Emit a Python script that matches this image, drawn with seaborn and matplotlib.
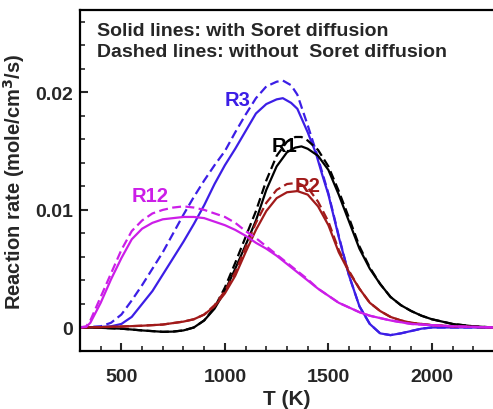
import matplotlib
matplotlib.use("Agg")
import matplotlib.pyplot as plt
import seaborn as sns
import numpy as np
import pandas as pd
from matplotlib.ticker import MultipleLocator

# ---------------- data ----------------
T_r3 = [300, 400, 450, 500, 550, 600, 650, 700, 750, 800, 850, 900, 950, 1000, 1050, 1100,
        1150, 1200, 1250, 1280, 1320, 1350, 1400, 1440, 1470, 1500, 1550, 1600, 1650, 1700,
        1750, 1800, 1850, 1900, 1950, 2000, 2100, 2300]
r3_solid = [0, 0.00005, 0.0001, 0.0003, 0.0009, 0.0020, 0.0031, 0.0045, 0.0059, 0.0073, 0.0088,
            0.0104, 0.0122, 0.0138, 0.0152, 0.0167, 0.0182, 0.0190, 0.0194, 0.0195, 0.0191,
            0.0186, 0.0166, 0.0148, 0.0130, 0.0113, 0.0077, 0.0044, 0.0018, 0.0003, -0.0005,
            -0.00065, -0.0005, -0.0003, -0.0001, 0, 0, 0]
r3_dashed = [0, 0.0001, 0.0004, 0.0011, 0.0023, 0.0036, 0.0050, 0.0064, 0.0080, 0.0096, 0.0111,
             0.0125, 0.0138, 0.0150, 0.0166, 0.0181, 0.0195, 0.0205, 0.0209, 0.0210, 0.0206,
             0.0198, 0.0172, 0.0150, 0.0132, 0.0114, 0.0078, 0.0044, 0.0018, 0.0003, -0.0005,
             -0.00065, -0.0005, -0.0003, -0.0001, 0, 0, 0]

T_r1 = [300, 400, 500, 600, 700, 750, 800, 850, 900, 950, 1000, 1050, 1100, 1150, 1200, 1250,
        1300, 1340, 1370, 1400, 1450, 1500, 1550, 1600, 1650, 1700, 1750, 1800, 1850, 1900,
        1950, 2000, 2100, 2200, 2300]
r1_solid = [0, -0.00003, -0.0001, -0.00025, -0.00037, -0.00035, -0.00025, 0.0, 0.0006, 0.0016,
            0.0031, 0.0050, 0.0070, 0.0091, 0.0117, 0.0137, 0.0149, 0.0153, 0.0154, 0.0152,
            0.0146, 0.0134, 0.0113, 0.0090, 0.0067, 0.0050, 0.0037, 0.0026, 0.0019, 0.0014,
            0.0010, 0.0007, 0.0003, 0.0001, 0]
r1_dashed = [0, -0.00003, -0.0001, -0.00025, -0.00037, -0.00035, -0.00025, 0.0, 0.0006, 0.0017,
             0.0034, 0.0055, 0.0077, 0.0099, 0.0125, 0.0146, 0.0158, 0.0162, 0.0162, 0.0159,
             0.0151, 0.0137, 0.0116, 0.0093, 0.0069, 0.0051, 0.0037, 0.0026, 0.0019, 0.0014,
             0.0010, 0.0007, 0.0003, 0.0001, 0]

T_r2 = [300, 400, 500, 600, 700, 800, 850, 900, 950, 1000, 1050, 1100, 1150, 1200, 1250, 1300,
        1350, 1400, 1450, 1500, 1550, 1600, 1650, 1700, 1750, 1800, 1850, 1900, 2000, 2100, 2300]
r2_solid = [0, 0.00003, 0.00008, 0.00015, 0.00025, 0.0005, 0.0007, 0.0011, 0.0018, 0.0029,
            0.0044, 0.0064, 0.0083, 0.0099, 0.0110, 0.0115, 0.0116, 0.0113, 0.0103, 0.0087,
            0.0064, 0.0047, 0.0033, 0.0021, 0.0014, 0.0009, 0.0006, 0.0004, 0.0002, 0.0001, 0]
r2_dashed = [0, 0.00003, 0.00008, 0.00015, 0.00025, 0.0005, 0.0007, 0.0011, 0.0019, 0.0031,
             0.0047, 0.0068, 0.0089, 0.0106, 0.0117, 0.0122, 0.0123, 0.0119, 0.0107, 0.0090,
             0.0066, 0.0048, 0.0033, 0.0021, 0.0014, 0.0009, 0.0006, 0.0004, 0.0002, 0.0001, 0]

T_r12 = [300, 330, 350, 400, 450, 500, 550, 600, 650, 700, 750, 800, 850, 900, 950, 1000, 1050,
         1100, 1150, 1200, 1250, 1300, 1350, 1400, 1450, 1500, 1550, 1600, 1650, 1700, 1800,
         1900, 2000, 2100, 2300]
r12_solid = [0, 0.00005, 0.0004, 0.0021, 0.0041, 0.0059, 0.0075, 0.0084, 0.0089, 0.0092, 0.0093,
             0.0094, 0.0094, 0.0093, 0.0090, 0.0087, 0.0083, 0.0078, 0.0072, 0.0067, 0.0061,
             0.0054, 0.0047, 0.0040, 0.0033, 0.0027, 0.0021, 0.0017, 0.0013, 0.0010, 0.0006,
             0.0003, 0.0002, 0.0001, 0]
r12_dashed = [0, 0.0001, 0.0006, 0.0026, 0.0046, 0.0066, 0.0082, 0.0091, 0.0097, 0.0100, 0.0102,
              0.0103, 0.0102, 0.0100, 0.0097, 0.0094, 0.0089, 0.0082, 0.0076, 0.0069, 0.0062,
              0.0055, 0.0048, 0.0041, 0.0033, 0.0027, 0.0021, 0.0017, 0.0013, 0.0010, 0.0006,
              0.0003, 0.0002, 0.0001, 0]

y_ticks = [0, 0.01, 0.02]
y_tick_labels = ["0", "0.01", "0.02"]
x_ticks = [500, 1000, 1500, 2000]

series = [
    ("R3", T_r3, r3_solid, r3_dashed, "#3c1ee6"),
    ("R1", T_r1, r1_solid, r1_dashed, "#000000"),
    ("R2", T_r2, r2_solid, r2_dashed, "#a11a1a"),
    ("R12", T_r12, r12_solid, r12_dashed, "#cc1ee8"),
]

# ---------------- plot ----------------
sns.set_theme(style="ticks")
plt.rcParams["font.family"] = ["Liberation Sans", "DejaVu Sans"]
plt.rcParams["font.weight"] = "bold"
plt.rcParams["mathtext.default"] = "bf"

fig = plt.figure(figsize=(4.93, 4.10), dpi=100)
ax = fig.add_axes([80 / 493, 58 / 410, 1 - 80 / 493 + 0.002, (352 - 11) / 410])

for name, T, solid, dashed, col in series:
    sns.lineplot(x=T, y=dashed, ax=ax, color=col, lw=1.6, linestyle=(0, (4, 2)), sort=False)
    sns.lineplot(x=T, y=solid, ax=ax, color=col, lw=1.6, sort=False)

ax.set_xlim(300, 2300)
ax.set_ylim(-0.002, 0.027)
ax.set_xticks(x_ticks)
ax.set_yticks(y_ticks)
ax.set_yticklabels(y_tick_labels)
ax.xaxis.set_minor_locator(MultipleLocator(100))
ax.yaxis.set_minor_locator(MultipleLocator(0.002))
ax.tick_params(which="major", direction="in", length=6, width=1.5, labelsize=14)
ax.tick_params(which="minor", direction="in", length=3.5, width=1.2)
ax.tick_params(axis="x", which="both", pad=12, top=False)
ax.tick_params(axis="y", which="both", pad=5, right=False)
for lbl in ax.get_xticklabels() + ax.get_yticklabels():
    lbl.set_fontweight("bold")

for side in ["left", "bottom", "top"]:
    ax.spines[side].set_linewidth(1.6)
    ax.spines[side].set_color("black")
ax.spines["right"].set_visible(False)

ax.set_xlabel("T (K)", fontsize=15, fontweight="bold", labelpad=3)
ax.set_ylabel("Reaction rate (mole/cm$^3$/s)", fontsize=14.5, fontweight="bold", labelpad=6)

ax.text(0.04, 0.941, "Solid lines: with Soret diffusion", transform=ax.transAxes,
        fontsize=14, fontweight="bold", va="center", ha="left")
ax.text(0.04, 0.877, "Dashed lines: without  Soret diffusion", transform=ax.transAxes,
        fontsize=14, fontweight="bold", va="center", ha="left")

ax.text(1060, 0.0194, "R3", color="#3c1ee6", fontsize=14.5, fontweight="bold", ha="center", va="center")
ax.text(1288, 0.0155, "R1", color="#000000", fontsize=14.5, fontweight="bold", ha="center", va="center")
ax.text(1399, 0.0121, "R2", color="#a11a1a", fontsize=14.5, fontweight="bold", ha="center", va="center")
ax.text(639, 0.0112, "R12", color="#cc1ee8", fontsize=14.5, fontweight="bold", ha="center", va="center")

fig.savefig("out.png", dpi=100)
